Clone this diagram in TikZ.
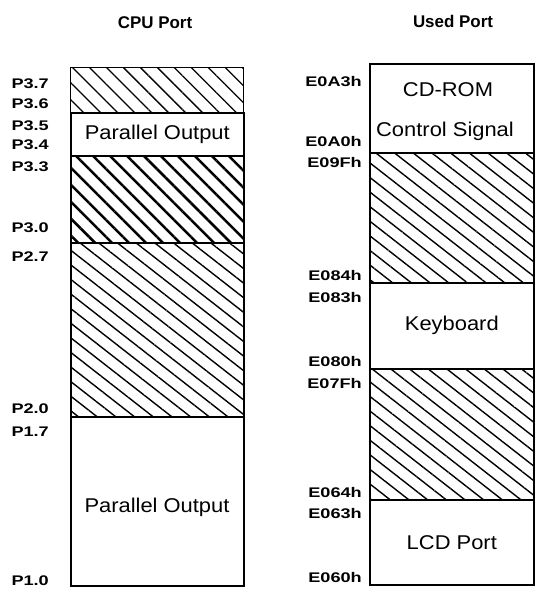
\documentclass[tikz,border=0pt]{standalone}
\usepackage{fontspec}
\setmainfont{Liberation Sans}
\newfontfamily\lblfont[FakeStretch=1.3]{Liberation Sans}
\newfontfamily\boxfont[FakeStretch=1.1]{Liberation Sans}
\usetikzlibrary{patterns.meta}
\begin{document}
\begin{tikzpicture}[x=1bp,y=-1bp,
  seg/.style={draw,line width=1.6bp,minimum width=173bp,inner sep=0pt,anchor=north west},
  rseg/.style={seg,minimum width=164bp},
  hatchA/.style={pattern={Lines[angle=-45,distance=12bp,line width=1.3bp]}},
  hatchB/.style={pattern={Lines[angle=-45,distance=12bp,line width=2.5bp]}},
  hatchC/.style={pattern={Lines[angle=-38,distance=11.5bp,line width=1.4bp]}},
  boxtxt/.style={font=\boxfont\fontsize{20}{24}\selectfont},
  lbl/.style={font=\lblfont\bfseries\fontsize{14}{16}\selectfont,anchor=east,inner sep=0pt},
  ttl/.style={font=\bfseries\fontsize{17}{19}\selectfont}]
\useasboundingbox (0,0) rectangle (535,589);
% titles
\node[ttl] (cputtl) at (155,23) {CPU Port};
\node[ttl] (usedttl) at (453,21) {Used Port};
% CPU port column
\node[seg,hatchA,minimum height=45bp] (lhatA) at (70,67) {};
\node[seg,minimum height=43bp,boxtxt] (lparA) at (70,112) {Parallel Output};
\node[seg,hatchB,minimum height=87bp] (lhatB) at (70,155) {};
\node[seg,hatchC,minimum height=174bp] (lhatC) at (70,242) {};
\node[seg,minimum height=169bp] (lparB) at (70,416) {};
\node[boxtxt] (lparBtxt) at (157,507) {Parallel Output};
% used port column
\node[rseg,minimum height=89bp] (rcd) at (369,63) {};
\node[boxtxt] (rcdA) at (448,90) {CD-ROM};
\node[boxtxt] (rcdB) at (445,131) {Control Signal};
\node[rseg,hatchC,minimum height=130bp] (rhatA) at (369,152) {};
\node[rseg,minimum height=86bp,boxtxt] (rkey) at (369,282) {Keyboard};
\node[rseg,hatchC,minimum height=131bp] (rhatB) at (369,368) {};
\node[rseg,minimum height=85bp,boxtxt] (rlcd) at (369,499) {LCD Port};
% port pins
\foreach \pin/\ypos in {3.7/84,3.6/104,3.5/126,3.4/145,3.3/167,3.0/228,2.7/257,2.0/409,1.7/432,1.0/581}
  \node[lbl] (p\pin) at (49,\ypos) {P\pin};
% addresses
\foreach \adr/\ypos in {E0A3h/82,E0A0h/142,E09Fh/163,E084h/276,E083h/298,E080h/362,E07Fh/384,E064h/493,E063h/514,E060h/578}
  \node[lbl] (a\adr) at (362,\ypos) {\adr};
\end{tikzpicture}
\end{document}
